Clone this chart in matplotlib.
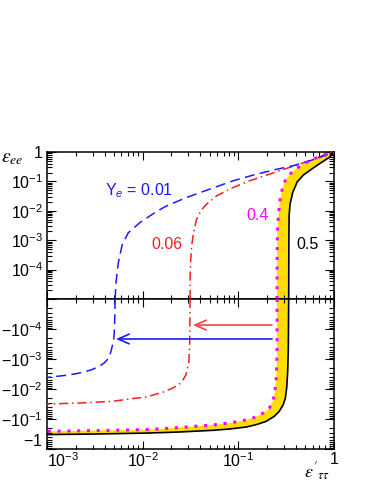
import matplotlib

matplotlib.use("Agg")
import matplotlib.pyplot as plt
from matplotlib.ticker import LogLocator, NullFormatter

# curves, split at the zero crossing
# top panel: eps_ee > 0, bottom panel: eps_ee < 0
blue_top_x = [0.00515, 0.00526, 0.00556, 0.00612, 0.00708, 0.00938, 0.0140, 0.0178, 0.0288,
              0.0506, 0.0886, 0.143, 0.232, 0.375, 0.608, 1.0]
blue_top_y = [1e-5, 3.6e-5, 1.7e-4, 7.2e-4, 1.8e-3, 4.0e-3, 9.5e-3, 0.0147, 0.0284,
              0.055, 0.105, 0.164, 0.243, 0.342, 0.547, 1.0]
blue_bot_x = [0.00515, 0.00512, 0.00505, 0.00498, 0.00467, 0.00442, 0.00397, 0.00352,
              0.00301, 0.00256, 0.00201, 0.00158, 0.001]
blue_bot_y = [-1e-5, -3.5e-5, -1.2e-4, -2.3e-4, -5.5e-4, -9.3e-4, -1.35e-3, -1.74e-3,
              -2.2e-3, -2.6e-3, -3.1e-3, -3.5e-3, -4.1e-3]

red_top_x = [0.0313, 0.0313, 0.0318, 0.0325, 0.0338, 0.0352, 0.0366, 0.0397, 0.0424, 0.0466,
             0.0594, 0.0886, 0.132, 0.198, 0.320, 0.519, 0.908, 1.0]
red_top_y = [1e-5, 6e-5, 2.2e-4, 6.3e-4, 1.6e-3, 3.0e-3, 5.2e-3, 8.7e-3, 0.012, 0.0169,
             0.0323, 0.0624, 0.105, 0.164, 0.277, 0.467, 0.925, 1.0]
red_bot_x = [0.0313, 0.0311, 0.0310, 0.0303, 0.0284, 0.0262, 0.0242, 0.0206, 0.0162,
             0.0108, 0.00724, 0.00486, 0.00218, 0.001]
red_bot_y = [-1e-5, -1.2e-4, -3.3e-4, -1.35e-3, -3.3e-3, -5.2e-3, -6.8e-3, -9.3e-3, -0.0129,
             -0.0185, -0.0215, -0.0257, -0.0294, -0.0316]

mag_top_x = [0.254, 0.254, 0.256, 0.262, 0.272, 0.288, 0.308, 0.347, 0.407, 0.498, 0.633, 0.84, 1.0]
mag_top_y = [1e-5, 1.3e-4, 1.8e-3, 6.7e-3, 0.022, 0.055, 0.105, 0.177, 0.277, 0.42, 0.61, 0.855, 1.0]
mag_bot_x = [0.254, 0.254, 0.252, 0.248, 0.240, 0.229, 0.211, 0.195, 0.166, 0.141, 0.111,
             0.0805, 0.054, 0.036, 0.0206, 0.0108, 0.00486, 0.001]
mag_bot_y = [-1e-5, -4.3e-4, -1.55e-3, -5.5e-3, -0.0135, -0.026, -0.043, -0.055, -0.075,
             -0.093, -0.114, -0.135, -0.158, -0.174, -0.2, -0.226, -0.238, -0.257]

blk_top_x = [0.336, 0.337, 0.339, 0.347, 0.370, 0.413, 0.478, 0.585, 0.714, 0.908, 1.0]
blk_top_y = [1e-5, 4.9e-4, 6.7e-3, 0.0168, 0.042, 0.097, 0.164, 0.263, 0.41, 0.68, 1.0]
blk_bot_x = [0.336, 0.333, 0.328, 0.320, 0.310, 0.295, 0.268, 0.238, 0.195, 0.153, 0.120,
             0.0805, 0.054, 0.0242, 0.0108, 0.00325, 0.001]
blk_bot_y = [-1e-5, -4.3e-4, -2.6e-3, -9.3e-3, -0.020, -0.033, -0.055, -0.081, -0.12, -0.155,
             -0.185, -0.216, -0.238, -0.271, -0.295, -0.316, -0.33]

# arrows in the lower panel: (start x, tip x, eps_ee)
red_arrow = (0.225, 0.0336, -7.4e-5)
blue_arrow = (0.225, 0.00526, -2.15e-4)

curve_labels = [
    (r"Y$_e$ = 0.01", 0.00404, 0.047, "#1a1aff"),
    ("0.06", 0.0124, 7.2e-4, "#f02020"),
    ("0.4", 0.122, 7.1e-3, "#ff00ff"),
    ("0.5", 0.407, 7.2e-4, "black"),
]

top_ticks = [1e-5, 1e-4, 1e-3, 1e-2, 1e-1, 1]
top_ticklabels = ["", r"$10^{-4}$", r"$10^{-3}$", r"$10^{-2}$", r"$10^{-1}$", "1"]
bot_ticklabels = ["", r"$-10^{-4}$", r"$-10^{-3}$", r"$-10^{-2}$", r"$-10^{-1}$", r"$-1$"]
x_ticks = [1e-3, 1e-2, 1e-1, 1]
x_ticklabels = [r"$10^{-3}$", r"$10^{-2}$", r"$10^{-1}$", "1"]

BLUE = "#1a1aff"
RED = "#f02020"
MAG = "#ff00ff"
YEL = "#ffdd00"


def style_axis(ax):
    ax.set_xscale("log")
    ax.set_yscale("log")
    ax.set_xlim(1e-3, 1)
    ax.tick_params(which="both", direction="in", top=True, right=True, width=0.8)
    ax.tick_params(axis="x", which="major", length=5.5)
    ax.tick_params(axis="x", which="minor", length=3)
    ax.tick_params(axis="y", which="major", length=6.5, pad=3)
    ax.tick_params(axis="y", which="minor", length=3.5)
    ax.xaxis.set_minor_locator(LogLocator(base=10, subs=range(2, 10), numticks=20))
    ax.yaxis.set_minor_locator(LogLocator(base=10, subs=range(2, 10), numticks=20))
    ax.xaxis.set_minor_formatter(NullFormatter())
    ax.yaxis.set_minor_formatter(NullFormatter())
    for s in ax.spines.values():
        s.set_linewidth(1.1)


def draw_curves(ax, sign):
    if sign > 0:
        bx, by, rx, ry = blue_top_x, blue_top_y, red_top_x, red_top_y
        mx, my, kx, ky = mag_top_x, mag_top_y, blk_top_x, blk_top_y
    else:
        bx, by, rx, ry = blue_bot_x, blue_bot_y, red_bot_x, red_bot_y
        mx, my, kx, ky = mag_bot_x, mag_bot_y, blk_bot_x, blk_bot_y
    f = lambda v: [sign * a for a in v]
    ax.fill(mx + kx[::-1], f(my) + f(ky)[::-1], color=YEL, lw=0, zorder=1)
    ax.plot(kx, f(ky), color="black", lw=1.2, zorder=3)
    ax.plot(mx, f(my), color=MAG, lw=2.2, linestyle=(0, (1, 2.2)),
            dash_capstyle="butt", zorder=4)
    ax.plot(rx, f(ry), color=RED, lw=1.1, linestyle=(0, (6, 2.5, 1, 2.5)), zorder=3)
    ax.plot(bx, f(by), color=BLUE, lw=1.1, linestyle=(0, (6.5, 3.5)), zorder=3)


def main():
    plt.rcParams["font.family"] = ["Liberation Sans", "DejaVu Sans"]
    plt.rcParams["mathtext.fontset"] = "custom"
    plt.rcParams["mathtext.rm"] = "Liberation Sans"
    plt.rcParams["mathtext.it"] = "Liberation Sans:italic"
    plt.rcParams["mathtext.bf"] = "Liberation Sans:bold"

    fig = plt.figure(figsize=(3.74, 4.84), dpi=100)
    ax_top = fig.add_axes([0.1257, 0.3822, 0.7674, 0.3038])
    ax_bot = fig.add_axes([0.1257, 0.0723, 0.7674, 0.3099])

    style_axis(ax_top)
    ax_top.set_ylim(1e-5, 1)
    draw_curves(ax_top, 1)
    ax_top.set_yticks(top_ticks)
    ax_top.set_yticklabels(top_ticklabels, fontsize=11.5)
    ax_top.set_xticks(x_ticks)
    ax_top.set_xticklabels([])

    style_axis(ax_bot)
    ax_bot.set_ylim(1, 1e-5)
    draw_curves(ax_bot, -1)
    ax_bot.set_yticks(top_ticks)
    ylabs = ax_bot.set_yticklabels(bot_ticklabels, fontsize=11.5)
    ylabs[-1].set_va("bottom")
    ax_bot.set_xticks(x_ticks)
    xlabs = ax_bot.set_xticklabels(x_ticklabels, fontsize=11.5)
    xlabs[0].set_ha("left")
    ax_bot.tick_params(axis="x", pad=2)

    for (x0, x1, y), col in [(red_arrow, "#ff4040"), (blue_arrow, BLUE)]:
        ax_bot.annotate("", xy=(x1, -y), xytext=(x0, -y),
                        arrowprops=dict(arrowstyle="->,head_length=0.8,head_width=0.35",
                                        color=col, lw=1.2, shrinkA=0, shrinkB=0))

    for txt, x, y, col in curve_labels:
        ax_top.text(x, y, txt, color=col, fontsize=11.5, ha="left", va="center")

    fig.text(0.002, 0.665, r"$\varepsilon_{ee}$", fontsize=14, ha="left",
             va="baseline", math_fontfamily="stix")
    fig.text(0.812, 0.012, r"$\varepsilon'_{\tau\tau}$", fontsize=13, ha="left",
             va="baseline", math_fontfamily="stix")

    fig.savefig("out.png", dpi=100)
    plt.close(fig)


if __name__ == "__main__":
    main()
